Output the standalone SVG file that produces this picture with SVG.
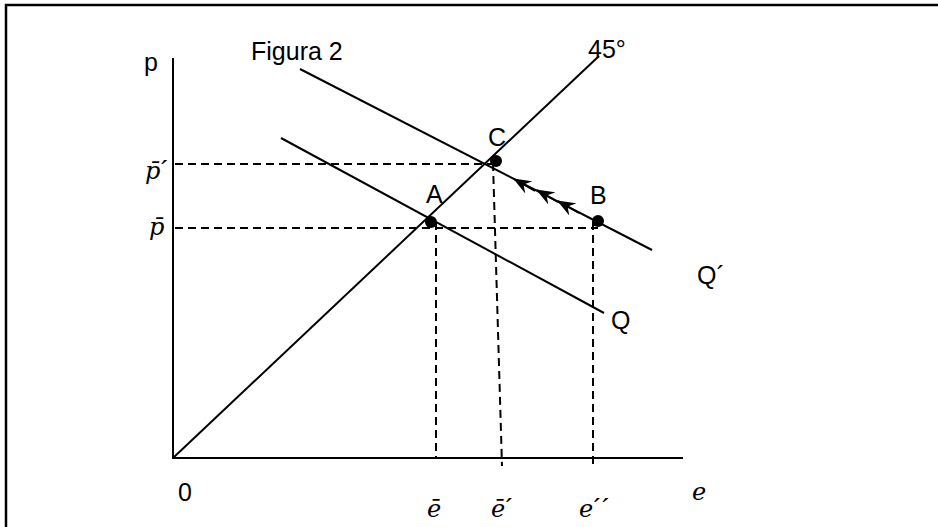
<svg xmlns="http://www.w3.org/2000/svg" width="938" height="527" viewBox="0 0 938 527">
<defs>
<style>
.ln{stroke:#000;stroke-width:2;fill:none}
.ds{stroke:#000;stroke-width:2;fill:none;stroke-dasharray:8 5}
.t{font-family:"Liberation Sans",Arial,sans-serif;font-size:25px;fill:#000}
.m{font-family:"DejaVu Serif","Liberation Serif",serif;font-style:italic;font-size:24px;fill:#000}
.pr{font-family:"Liberation Sans",Arial,sans-serif;font-style:normal;font-size:26px}
.dot{fill:#000}
</style>
<marker id="ah" markerWidth="18" markerHeight="14" refX="1" refY="7" orient="auto" markerUnits="userSpaceOnUse" viewBox="0 0 18 14">
<path d="M18,0 L0,7 L18,14 L12,7 Z" fill="#000"/>
</marker>
</defs>
<rect width="938" height="527" fill="#fff"/>
<g id="frame">
<path d="M6,527 V5 H938" stroke="#000" stroke-width="2.5" fill="none"/>
</g>
<g id="axes">
<path class="ln" d="M173,58 V458 H683"/>
</g>
<g id="connectors">
<line class="ln" x1="173" y1="458" x2="599" y2="56"/>
<line class="ln" x1="281" y1="138" x2="604" y2="313"/>
<line class="ln" x1="300" y1="69" x2="652" y2="250"/>
<line class="ds" x1="175" y1="164" x2="496" y2="164"/>
<line class="ds" x1="175" y1="228" x2="598" y2="228"/>
<line class="ds" x1="436" y1="222" x2="436" y2="458"/>
<line class="ds" x1="493" y1="163" x2="502" y2="466"/>
<line class="ds" x1="593" y1="222" x2="593" y2="468"/>
<line class="ln" x1="514" y1="179" x2="535" y2="191" marker-start="url(#ah)"/>
<line class="ln" x1="537" y1="190" x2="558" y2="202" marker-start="url(#ah)"/>
<line class="ln" x1="558" y1="201" x2="579" y2="213" marker-start="url(#ah)"/>
</g>
<g id="node-A"><circle class="dot" cx="431" cy="222" r="6"/><text class="t" x="426" y="203">A</text></g>
<g id="node-B"><circle class="dot" cx="598" cy="221" r="6"/><text class="t" x="590" y="204">B</text></g>
<g id="node-C"><circle class="dot" cx="496" cy="161" r="6"/><text class="t" x="488" y="146">C</text></g>
<g id="labels">
<text class="t" x="251" y="60">Figura 2</text>
<text class="t" x="588" y="58">45°</text>
<text class="t" x="144" y="71">p</text>
<text class="t" x="697" y="284">Q´</text>
<text class="t" x="611" y="329">Q</text>
<text class="t" x="178" y="501">0</text>
<text class="m" x="145" y="179">p̄<tspan class="pr">´</tspan></text>
<text class="m" x="149" y="235">p̄</text>
<text class="m" x="427" y="517">ē</text>
<text class="m" x="491" y="517">ē<tspan class="pr">´</tspan></text>
<text class="m" x="579" y="517">e<tspan class="pr">´´</tspan></text>
<text class="m" x="692" y="500">e</text>
</g>
</svg>
